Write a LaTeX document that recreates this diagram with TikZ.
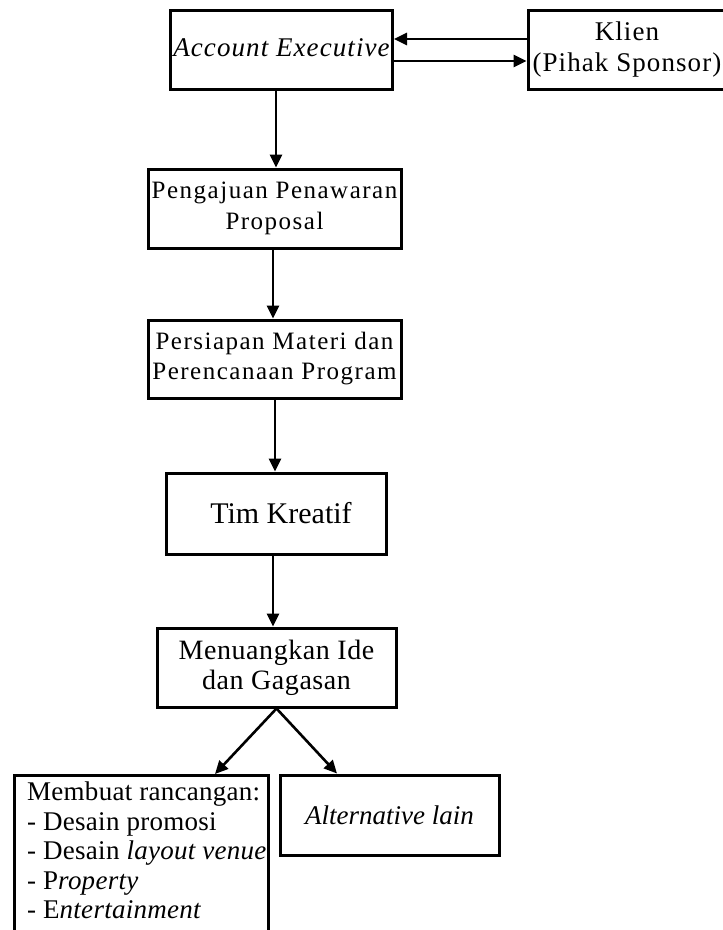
\documentclass[tikz,border=0pt]{standalone}
\usepackage{fontspec}
\setmainfont{Liberation Serif}
\usetikzlibrary{arrows.meta}
\begin{document}
\begin{tikzpicture}[x=1pt,y=-1pt,
  box/.style={draw, line width=3pt, inner sep=0pt, align=center},
  arr/.style={line width=2.6pt, -{Triangle[length=13pt,width=12pt]}}]
\useasboundingbox (0,0) rectangle (723,930);
\clip (0,0) rectangle (723,930);

\coordinate (xa) at (276,0);
\coordinate (xb) at (273,0);
\coordinate (xc) at (275,0);
\coordinate (xl) at (215,0);
\coordinate (xr) at (337,0);

\node[box, minimum width=222pt, minimum height=79pt,
  font=\fontsize{27}{31}\selectfont\itshape\addfontfeature{LetterSpace=4}] (ae) at (281.5,49.5) {\raisebox{3pt}{Account Executive}};
\node[box, minimum width=198pt, minimum height=79pt,
  font=\fontsize{27}{31}\selectfont\addfontfeature{LetterSpace=4}] (kl) at (627,49.5) {Klien\\(Pihak Sponsor)};
\node[box, minimum width=253pt, minimum height=79pt,
  font=\fontsize{25}{31}\selectfont\addfontfeature{LetterSpace=6}] (peng) at (274.5,208.5) {Pengajuan Penawaran\\Proposal};
\node[box, minimum width=253pt, minimum height=78pt,
  font=\fontsize{25}{30}\selectfont\addfontfeature{LetterSpace=6}] (pers) at (274.5,359) {Persiapan Materi dan\\Perencanaan Program};
\node[box, minimum width=220pt, minimum height=81pt,
  font=\fontsize{30}{34}\selectfont] (tim) at (276,513.5) {\hspace*{10pt}Tim Kreatif};
\node[box, minimum width=239pt, minimum height=79pt,
  font=\fontsize{28}{30}\selectfont\addfontfeature{LetterSpace=2}] (menu) at (276.5,667.5) {Menuangkan Ide\\dan Gagasan};
\node[box, minimum width=219pt, minimum height=80pt,
  font=\fontsize{27}{31}\selectfont\itshape] (alt) at (389.5,815) {Alternative lain};
\node[box, minimum width=254pt, minimum height=170pt, anchor=north west] (mb) at (13,774) {};
\node[inner sep=0pt, anchor=north west, align=left,
  font=\fontsize{27}{29.6}\selectfont\addfontfeature{LetterSpace=1}] (mbt) at (27,781.5)
  {Membuat rancangan:\\- Desain promosi\\- Desain \textit{layout venue}\\- P\textit{roperty}\\- E\textit{ntertainment}};

\draw[arr] ([yshift=10.5pt]kl.west) -- ([yshift=10.5pt]ae.east);
\draw[arr] ([yshift=-11.5pt]ae.east) -- ([yshift=-11.5pt]kl.west);
\draw[arr] (ae.south -| xa) -- (peng.north -| xa);
\draw[arr] (peng.south -| xb) -- (pers.north -| xb);
\draw[arr] (pers.south -| xc) -- (tim.north -| xc);
\draw[arr] (tim.south -| xb) -- (menu.north -| xb);
\draw[arr] (menu.south) -- (mb.north -| xl);
\draw[arr] (menu.south) -- (alt.north -| xr);
\end{tikzpicture}
\end{document}
